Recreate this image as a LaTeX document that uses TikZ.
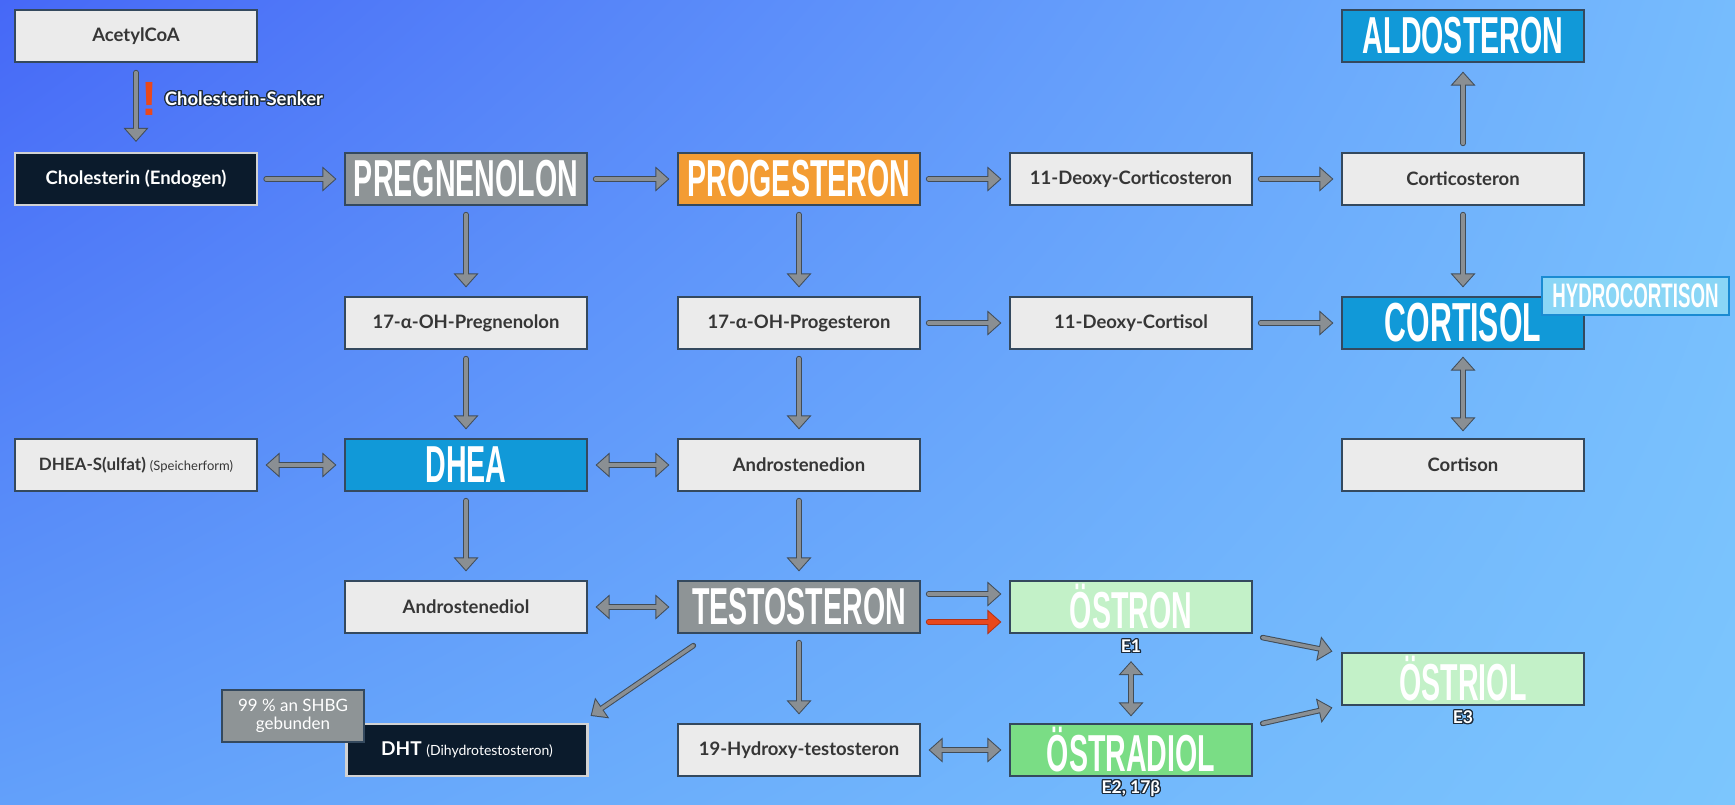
\documentclass[tikz,border=0pt]{standalone}
\usepackage{fontspec}
\setmainfont{Lato}
\newfontfamily\titlefont{Liberation Sans}[FakeStretch=0.55]
\newfontfamily\exclfont{Liberation Sans}
\usepackage{contour}
\contourlength{1.2pt}
\usetikzlibrary{arrows.meta,shadings}
\definecolor{bgUL}{RGB}{70,104,247}
\definecolor{bgUR}{RGB}{118,188,253}
\definecolor{bgLL}{RGB}{98,160,250}
\definecolor{bgLR}{RGB}{124,198,253}
\definecolor{boxfill}{HTML}{EBEBEB}
\definecolor{boxborder}{HTML}{34495E}
\definecolor{textdark}{HTML}{363636}
\definecolor{darkfill}{HTML}{0B1B2C}
\definecolor{darkborder}{HTML}{D2D2D2}
\definecolor{graytitle}{HTML}{8E9496}
\definecolor{orangetitle}{HTML}{F39C33}
\definecolor{bluetitle}{HTML}{1199D8}
\definecolor{lightgreen}{HTML}{C3F1C8}
\definecolor{green}{HTML}{7ADD85}
\definecolor{hydrofill}{HTML}{8AD6F6}
\definecolor{hydroborder}{HTML}{1A8BD2}
\definecolor{arrowgray}{HTML}{8A8F93}
\definecolor{arrowdark}{HTML}{414C57}
\definecolor{arrowred}{HTML}{E9481C}
\definecolor{arrowreddark}{HTML}{B0341A}
\definecolor{lbldark}{HTML}{1D2B3A}
\newcommand\uni[3][9]{%
  \draw[arrout#2,shorten <=#1pt,shorten >=#1pt,-{Triangle[length=14pt,width=25pt,line width=0pt]}] #3;
  \draw[arrin#2,shorten <=#1pt,shorten >=#1pt+1.5pt,-{Triangle[length=11.5pt,width=20.5pt,line width=0pt]}] #3;}
\newcommand\bi[2][9]{%
  \draw[arrout,shorten <=#1pt,shorten >=#1pt,{Triangle[length=14pt,width=25pt,line width=0pt]}-{Triangle[length=14pt,width=25pt,line width=0pt]}] #2;
  \draw[arrin,shorten <=#1pt+1.5pt,shorten >=#1pt+1.5pt,{Triangle[length=11.5pt,width=20.5pt,line width=0pt]}-{Triangle[length=11.5pt,width=20.5pt,line width=0pt]}] #2;}
\begin{document}
\begin{tikzpicture}[x=1pt,y=-1pt,
  box/.style={rectangle, minimum width=242pt, minimum height=52pt, inner sep=0pt,
    draw=boxborder, line width=1.2pt, fill=boxfill, text=textdark,
    font=\bfseries\fontsize{18.5}{21}\selectfont},
  darkbox/.style={box, fill=darkfill, draw=darkborder, line width=2.2pt, text=white},
  title/.style={box, text=white, font=\titlefont\bfseries\fontsize{52}{52}\selectfont},
  tgray/.style={title, fill=graytitle},
  torange/.style={title, fill=orangetitle},
  tblue/.style={title, fill=bluetitle},
  tlgreen/.style={title, fill=lightgreen},
  tgreen/.style={title, fill=green},
  lbl/.style={inner sep=0pt, text=white, font=\bfseries\fontsize{17.5}{19}\selectfont},
  arrout/.style={draw=arrowdark, line width=5.5pt, line cap=round},
  arrin/.style={draw=arrowgray, line width=3.5pt, line cap=round},
  arroutred/.style={draw=arrowreddark, line width=5.5pt, line cap=round},
  arrinred/.style={draw=arrowred, line width=3.5pt, line cap=round},
]
\useasboundingbox (0,0) rectangle (1735,804);
\shade[upper left=bgUL, upper right=bgUR, lower left=bgLL, lower right=bgLR] (0,0) rectangle (1735,804);

% nodes
\node[box] (acetyl) at (136,36) {AcetylCoA};
\node[darkbox] (chol) at (136,179) {Cholesterin (Endogen)};
\node[tgray] (preg) at (466,179) {PREGNENOLON};
\node[torange] (prog) at (799,179) {PROGESTERON};
\node[box] (dcs) at (1131,179) {11-Deoxy-Corticosteron};
\node[box] (corticost) at (1463,179) {Corticosteron};
\node[tblue] (aldo) at (1463,36) {ALDOSTERON};
\node[box] (ohpreg) at (466,323) {17-α-OH-Pregnenolon};
\node[box] (ohprog) at (799,323) {17-α-OH-Progesteron};
\node[box] (dcl) at (1131,323) {11-Deoxy-Cortisol};
\node[tblue, font=\titlefont\bfseries\fontsize{55}{55}\selectfont] (cortisol) at (1463,323) {CORTISOL};
\node[rectangle, minimum width=187pt, minimum height=38pt, inner sep=0pt, fill=hydrofill,
  draw=hydroborder, line width=1.8pt, text=white,
  font=\titlefont\bfseries\fontsize{34}{34}\selectfont] (hydro) at (1635.5,296) {HYDROCORTISON};
\node[box, font=\bfseries\fontsize{17}{20}\selectfont] (dheas) at (136,465) {DHEA-S(ulfat) {\mdseries\fontsize{13}{15}\selectfont(Speicherform)}};
\node[tblue] (dhea) at (466,465) {DHEA};
\node[box] (andion) at (799,465) {Androstenedion};
\node[box] (cortison) at (1463,465) {Cortison};
\node[box] (andiol) at (466,607) {Androstenediol};
\node[tgray] (testo) at (799,607) {TESTOSTERON};
\node[tlgreen] (ostron) at (1131,607) {ÖSTRON};
\node[tlgreen] (ostriol) at (1463,679) {ÖSTRIOL};
\node[darkbox, minimum width=241pt, font=\bfseries\fontsize{19}{21}\selectfont] (dht) at (467,750) {DHT {\mdseries\fontsize{14}{16}\selectfont(Dihydrotestosteron)}};
\node[box, minimum width=142pt, fill=graytitle, text=white, align=center,
  font=\mdseries\fontsize{17}{18.5}\selectfont] (shbg) at (293,716) {99 \% an SHBG\\gebunden};
\node[box] (hydroxy) at (799,750) {19-Hydroxy-testosteron};
\node[tgreen] (ostradiol) at (1131,750) {ÖSTRADIOL};

% labels
\node[lbl] (e1) at (1131,647) {\contour{lbldark}{E1}};
\node[lbl] (e2) at (1131,789) {\contour{lbldark}{E2, 17β}};
\node[lbl] (e3) at (1463,718) {\contour{lbldark}{E3}};
\node[lbl, font=\bfseries\fontsize{18.5}{20}\selectfont] (senker) at (244,99) {\contour{lbldark}{Cholesterin-Senker}};
\node[inner sep=0pt, text=arrowred, font=\exclfont\bfseries\fontsize{48}{48}\selectfont] (excl) at (149,99) {!};

% connectors
\uni[10]{}{(acetyl.south) -- (chol.north)}
\uni[8]{}{(chol.east) -- (preg.west)}
\uni[8]{}{(preg.east) -- (prog.west)}
\uni[8]{}{(prog.east) -- (dcs.west)}
\uni[8]{}{(dcs.east) -- (corticost.west)}
\uni[9]{}{(corticost.north) -- (aldo.south)}
\uni[9]{}{(corticost.south) -- (cortisol.north)}
\uni[9]{}{(preg.south) -- (ohpreg.north)}
\uni[9]{}{(prog.south) -- (ohprog.north)}
\uni[8]{}{(ohprog.east) -- (dcl.west)}
\uni[8]{}{(dcl.east) -- (cortisol.west)}
\uni[9]{}{(ohpreg.south) -- (dhea.north)}
\uni[9]{}{(ohprog.south) -- (andion.north)}
\bi[7]{(cortisol.south) -- (cortison.north)}
\bi[8]{(dheas.east) -- (dhea.west)}
\bi[8]{(dhea.east) -- (andion.west)}
\uni[9]{}{(dhea.south) -- (andiol.north)}
\uni[9]{}{(andion.south) -- (testo.north)}
\bi[8]{(andiol.east) -- (testo.west)}
\uni[8]{}{([yshift=13pt]testo.east) -- ([yshift=13pt]ostron.west)}
\uni[8]{red}{([yshift=-15pt]testo.east) -- ([yshift=-15pt]ostron.west)}
\uni[0]{}{([shift={(16,12)}]testo.south west) -- ([shift={(2,-7)}]dht.north east)}
\uni[9]{}{(testo.south) -- (hydroxy.north)}
\bi[8]{(hydroxy.east) -- (ostradiol.west)}
\bi[7]{(e1.south) -- (ostradiol.north)}
\uni[0]{}{([shift={(10,4)}]ostron.south east) -- ([shift={(-9,-1)}]ostriol.north west)}
\uni[0]{}{([shift={(10,0)}]ostradiol.north east) -- ([shift={(-9,2)}]ostriol.south west)}
\end{tikzpicture}
\end{document}
